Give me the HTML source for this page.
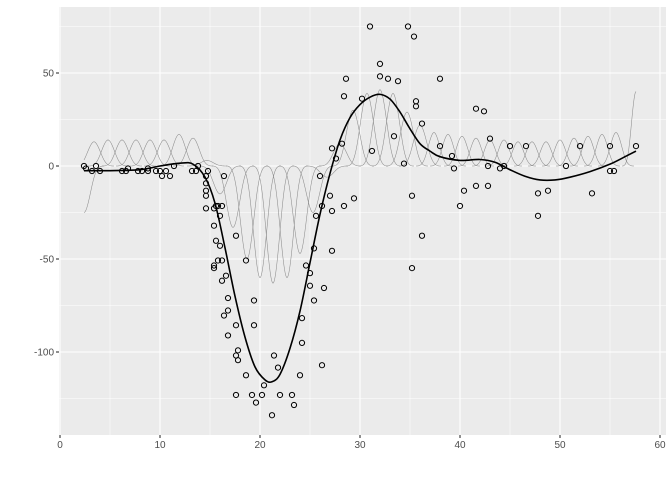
<!DOCTYPE html>
<html><head><meta charset="utf-8"><style>
html,body{margin:0;padding:0;background:#fff;}
svg{display:block;font-family:"Liberation Sans",sans-serif;}
</style></head><body>
<svg id="s" width="672" height="480" viewBox="0 0 672 480" xmlns="http://www.w3.org/2000/svg">
<rect x="0" y="0" width="672" height="480" fill="#fff"/>
<rect x="59" y="7" width="607" height="428" fill="#EBEBEB"/>
<g id="grid"></g>
<g id="bumps" fill="none" stroke="#8c8c8c" stroke-width="0.55"></g>
<path id="fit" fill="none" stroke="#000" stroke-width="1.6"/>
<g id="pts" fill="none" stroke="#000" stroke-width="1"></g>
<g id="axes" font-size="10" fill="#4D4D4D"></g>
</svg>
<script>
var NS="http://www.w3.org/2000/svg";
function X(t){return 60+10.0*t;}
function Y(v){return 166-1.86*v;}
function el(p,tag,a,txt){var e=document.createElementNS(NS,tag);for(var k in a)e.setAttribute(k,a[k]);if(txt!==undefined)e.textContent=txt;document.getElementById(p).appendChild(e);return e;}
[5,15,25,35,45,55,65].forEach(function(t){if(X(t)<666)el("grid","line",{x1:X(t),x2:X(t),y1:7,y2:435,stroke:"#fff","stroke-width":0.55});});
[-125,-75,-25,25,75].forEach(function(v){el("grid","line",{x1:59,x2:666,y1:Y(v),y2:Y(v),stroke:"#fff","stroke-width":0.55});});
[0,10,20,30,40,50,60].forEach(function(t){el("grid","line",{x1:X(t),x2:X(t),y1:7,y2:435,stroke:"#fff","stroke-width":1.1});
 el("axes","line",{x1:X(t),x2:X(t),y1:435,y2:438,stroke:"#333","stroke-width":1.1});
 el("axes","text",{x:X(t),y:448,"text-anchor":"middle"},String(t));});
[-100,-50,0,50].forEach(function(v){el("grid","line",{x1:59,x2:666,y1:Y(v),y2:Y(v),stroke:"#fff","stroke-width":1.1});
 el("axes","line",{x1:56,x2:59,y1:Y(v),y2:Y(v),stroke:"#333","stroke-width":1.1});
 el("axes","text",{x:54,y:Y(v)+3.5,"text-anchor":"end"},String(v));});
function b(u){u=Math.abs(u);if(u<1)return 2/3-u*u+u*u*u/2;if(u<2)return Math.pow(2-u,3)/6;return 0;}
var B=[[2.4,-25,1.0],[3.4,13,1.0],[4.8,14,1.0],[6.2,14,1.0],[7.6,14,1.0],[9.0,14,1.0],[10.4,14,1.0],[11.9,17,1.0],[13.3,15,1.0],[14.7,3,1.0],
[16,-15,1.05],[17.3,-33,1.05],[18.7,-50,1.05],[20,-60,1.05],[21.3,-63,1.05],[22.7,-60,1.05],[24,-47,1.05],[25.3,-25,1.05],[26.7,-6,1.05],
[28,12,1.05],[29.3,30,1.05],[30.7,39,1.05],[32,41,1.05],[33.3,39,1.05],[34.7,29,1.05],[36,22,1.05]];
var pk=[18,17,16,15,14,14,13,13,13,14,15,16,17,18];
for(var i=0;i<pk.length;i++){B.push([37.4+i*1.4,pk[i],0.9]);}
B.push([57.6,40,0.7]);
B.forEach(function(q){var c=q[0],A=q[1],h=q[2],d="";
 var lo=Math.max(2.4,c-2*h),hi=Math.min(57.6,c+2*h);
 for(var t=lo;t<=hi+1e-9;t+=0.05){var v=A*1.5*b((t-c)/h);d+=(d?"L":"M")+X(t).toFixed(2)+","+Y(v).toFixed(2);}
 el("bumps","path",{d:d});});
var F=[[2.4,-2.5],[5,-2.5],[8,-2],[10,0],[12,1.5],[13.3,1],[14.5,-6],[15.5,-20],[16.5,-44],[17.5,-70],[18.5,-92],[19.5,-108],[20.5,-115],[21.2,-116],[22,-112],[23,-98],[24,-78],[25,-52],[26,-26],[27,-4],[28,14],[29,26],[30,33],[31,37],[32,38.5],[33,36],[34,29],[35,20],[36,12],[37,8],[38,5],[40,3],[42,3.5],[43.5,2],[45,-2],[46.5,-5.5],[48,-7.5],[49.5,-7.5],[51,-6],[53,-3],[55,1],[56.5,5],[57.6,8]];
var d="";for(var i=0;i<F.length;i++){var px=X(F[i][0]),py=Y(F[i][1]);
 if(i==0){d="M"+px+","+py;}else{var p0=F[Math.max(i-2,0)],p1=F[i-1],p2=F[i],p3=F[Math.min(i+1,F.length-1)];
 var c1x=X(p1[0])+(X(p2[0])-X(p0[0]))/6,c1y=Y(p1[1])+(Y(p2[1])-Y(p0[1]))/6,c2x=X(p2[0])-(X(p3[0])-X(p1[0]))/6,c2y=Y(p2[1])-(Y(p3[1])-Y(p1[1]))/6;
 d+="C"+c1x.toFixed(2)+","+c1y.toFixed(2)+" "+c2x.toFixed(2)+","+c2y.toFixed(2)+" "+px.toFixed(2)+","+py.toFixed(2);}}
document.getElementById("fit").setAttribute("d",d);
var T=[2.4,2.6,3.2,3.6,4.0,6.2,6.6,6.8,7.8,8.2,8.8,8.8,9.6,10.0,10.2,10.6,11.0,11.4,13.2,13.6,13.8,14.6,14.6,14.6,14.6,14.6,14.6,14.8,15.4,15.4,15.4,15.4,15.6,15.6,15.8,15.8,16.0,16.0,16.2,16.2,16.2,16.4,16.4,16.6,16.8,16.8,16.8,17.6,17.6,17.6,17.6,17.8,17.8,18.6,18.6,19.2,19.4,19.4,19.6,20.2,20.4,21.2,21.4,21.8,22.0,23.2,23.4,24.0,24.2,24.2,24.6,25.0,25.0,25.4,25.4,25.6,26.0,26.2,26.2,26.4,27.0,27.2,27.2,27.2,27.6,28.2,28.4,28.4,28.6,29.4,30.2,31.0,31.2,32.0,32.0,32.8,33.4,33.8,34.4,34.8,35.2,35.2,35.4,35.6,35.6,36.2,36.2,38.0,38.0,39.2,39.4,40.0,40.4,41.6,41.6,42.4,42.8,42.8,43.0,44.0,44.4,45.0,46.6,47.8,47.8,48.8,50.6,52.0,53.2,55.0,55.0,55.4,57.6];
var A=[0.0,-1.3,-2.7,0.0,-2.7,-2.7,-2.7,-1.3,-2.7,-2.7,-1.3,-2.7,-2.7,-2.7,-5.4,-2.7,-5.4,0.0,-2.7,-2.7,0.0,-13.3,-5.4,-5.4,-9.3,-16.0,-22.8,-2.7,-22.8,-32.1,-53.5,-54.9,-40.2,-21.5,-21.5,-50.8,-42.9,-26.8,-21.5,-50.8,-61.7,-5.4,-80.4,-59.0,-71.0,-91.1,-77.7,-37.5,-85.6,-123.1,-101.9,-99.1,-104.4,-112.5,-50.8,-123.1,-85.6,-72.3,-127.2,-123.1,-117.9,-134.0,-101.9,-108.4,-123.1,-123.1,-128.5,-112.5,-95.1,-81.8,-53.5,-64.4,-57.6,-72.3,-44.3,-26.8,-5.4,-107.1,-21.5,-65.6,-16.0,-45.6,-24.2,9.5,4.0,12.0,-21.5,37.5,46.9,-17.4,36.2,75.0,8.1,54.9,48.2,46.9,16.0,45.6,1.3,75.0,-16.0,-54.9,69.6,34.8,32.1,-37.5,22.8,46.9,10.7,5.4,-1.3,-21.5,-13.3,30.8,-10.7,29.4,0.0,-10.7,14.7,-1.3,0.0,10.7,10.7,-26.8,-14.7,-13.3,0.0,10.7,-14.7,-2.7,10.7,-2.7,10.7];
for(var i=0;i<T.length;i++){el("pts","circle",{cx:X(T[i]).toFixed(2),cy:Y(A[i]).toFixed(2),r:2.6});}
</script>
</body></html>
